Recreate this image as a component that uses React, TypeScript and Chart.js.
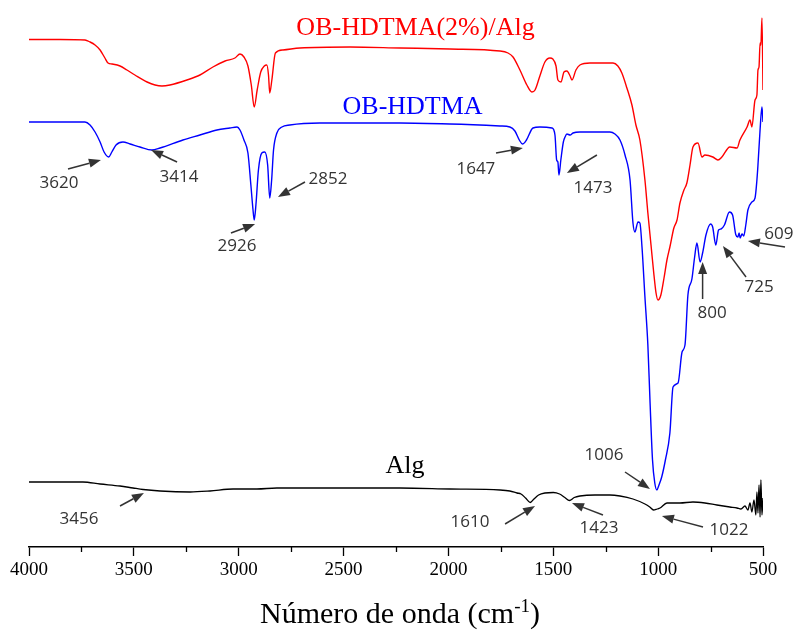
import React, { useEffect, useRef } from 'react';
import { Chart, registerables } from 'chart.js';

Chart.register(...registerables);

// ---- FTIR spectra: wavenumber (cm-1) and transmittance (arbitrary units, stacked) ----

const compositeWn = [
  4000, 3852, 3733, 3709, 3685, 3661, 3638, 3623, 3604, 3566, 3533, 3495, 3437, 3399, 3366, 3328,
  3247, 3185, 3123, 3065, 3018, 2994, 2975, 2956, 2940, 2926, 2912, 2895, 2878, 2866, 2858, 2852,
  2842, 2825, 2789, 2708, 2469, 2231, 1993, 1754, 1716, 1692, 1659, 1626, 1602, 1587, 1564, 1540,
  1516, 1502, 1487, 1478, 1463, 1449, 1435, 1420, 1411, 1392, 1373, 1325, 1277, 1215, 1192, 1173,
  1149, 1125, 1106, 1087, 1063, 1049, 1034, 1020, 1010, 1001, 987, 972, 958, 944, 925, 910,
  896, 877, 863, 848, 834, 810, 791, 777, 739, 715, 696, 658, 624, 610, 576, 562,
  553, 538, 529, 524, 519, 514, 510, 505, 500,
];
const compositeT = [
  101.5, 101.5, 101.4, 101.0, 100.4, 99.4, 97.8, 96.8, 96.6, 96.2, 95.4, 94.4, 93.0, 92.4, 92.2, 92.4,
  93.4, 94.4, 96.0, 97.2, 97.8, 98.6, 98.0, 96.2, 92.4, 88.0, 91.4, 95.0, 96.2, 96.4, 94.4, 90.8,
  93.4, 98.8, 99.4, 99.8, 100.0, 99.8, 99.6, 99.2, 98.8, 98.0, 95.4, 92.4, 91.0, 91.4, 94.2, 97.0,
  97.8, 97.6, 96.2, 93.4, 93.0, 95.0, 95.2, 94.2, 93.4, 95.4, 96.4, 96.8, 96.8, 96.8, 96.2, 94.8,
  91.8, 88.4, 84.4, 81.4, 73.4, 66.8, 60.4, 54.4, 50.8, 49.4, 50.4, 53.8, 57.4, 60.0, 63.8, 65.4,
  68.8, 71.4, 72.8, 76.4, 80.0, 80.8, 78.0, 78.4, 78.0, 77.4, 78.0, 80.0, 79.8, 81.4, 84.0, 85.4,
  84.0, 89.4, 90.4, 95.4, 96.0, 100.8, 100.4, 105.8, 91.4,
];

const organoWn = [
  4000, 3852, 3733, 3709, 3685, 3661, 3642, 3620, 3605, 3585, 3552, 3518, 3471, 3414, 3375, 3266,
  3185, 3104, 3042, 3008, 2994, 2975, 2956, 2942, 2932, 2926, 2918, 2906, 2890, 2876, 2862, 2852,
  2843, 2834, 2818, 2794, 2756, 2613, 2231, 1993, 1754, 1707, 1683, 1662, 1647, 1628, 1597, 1564,
  1506, 1492, 1484, 1478, 1473, 1464, 1452, 1444, 1435, 1420, 1406, 1373, 1230, 1206, 1182, 1158,
  1134, 1120, 1111, 1096, 1087, 1077, 1063, 1049, 1039, 1027, 1016, 1006, 996, 983, 965, 944,
  929, 905, 886, 872, 858, 839, 826, 815, 800, 788, 772, 750, 740, 725, 712, 700,
  684, 660, 645, 630, 620, 614, 609, 600, 592, 582, 572, 553, 538, 529, 524, 514,
  505, 500,
];
const organoT = [
  85.0, 85.0, 85.0, 84.4, 83.0, 81.0, 79.0, 78.0, 79.0, 80.4, 81.0, 80.6, 80.0, 79.4, 79.8, 81.4,
  82.4, 83.4, 83.8, 84.0, 83.4, 81.4, 78.8, 72.4, 67.5, 65.4, 68.4, 75.4, 78.8, 79.0, 76.4, 69.8,
  73.4, 79.4, 82.8, 84.0, 84.4, 84.8, 84.8, 84.6, 84.2, 84.0, 83.2, 81.4, 80.6, 81.4, 83.8, 84.0,
  83.8, 82.4, 77.4, 77.0, 74.4, 77.4, 81.0, 82.0, 82.6, 82.4, 82.8, 83.0, 83.0, 82.6, 81.4, 78.4,
  73.4, 64.8, 63.0, 65.0, 64.8, 60.0, 50.0, 40.4, 29.4, 17.5, 12.8, 11.4, 12.4, 14.0, 17.5, 22.8,
  32.0, 32.8, 39.0, 40.4, 50.4, 53.6, 58.0, 60.8, 57.0, 58.8, 62.4, 64.6, 64.0, 60.4, 63.4, 63.6,
  64.4, 67.0, 66.4, 62.5, 62.0, 62.8, 61.8, 62.6, 62.2, 64.4, 67.4, 69.0, 69.8, 73.4, 76.4, 83.4,
  88.0, 85.0,
];

const alginateWn = [
  4000, 3852, 3743, 3661, 3566, 3504, 3456, 3375, 3232, 3137, 3027, 2913, 2818, 2613, 2231, 1993,
  1754, 1707, 1673, 1654, 1632, 1610, 1592, 1570, 1540, 1500, 1470, 1445, 1423, 1400, 1373, 1301,
  1230, 1182, 1120, 1063, 1040, 1022, 1005, 991, 958, 896, 834, 777, 720, 658, 624, 605,
  586, 572, 562, 553, 543, 534, 529, 524, 519, 514, 510, 505, 500,
];
const alginateT = [
  13.0, 13.0, 13.0, 12.6, 12.2, 11.8, 11.5, 11.2, 11.0, 11.2, 11.6, 11.6, 11.8, 11.8, 11.8, 11.6,
  11.4, 11.2, 10.8, 10.6, 9.8, 8.9, 9.6, 10.4, 10.8, 10.9, 10.6, 9.9, 9.3, 9.9, 10.2, 10.4,
  10.4, 10.2, 9.6, 8.6, 8.0, 7.4, 7.6, 7.8, 8.8, 8.8, 9.0, 8.8, 8.4, 8.0, 7.8, 7.6,
  8.2, 7.4, 8.8, 7.0, 9.4, 6.4, 11.0, 6.8, 12.4, 6.0, 13.4, 6.4, 9.8,
];

const seriesNames = ['OB-HDTMA(2%)/Alg', 'OB-HDTMA', 'Alg'];
const seriesColors = ['#ff0000', '#0000ff', '#000000'];

const xMajorTicks = [4000, 3500, 3000, 2500, 2000, 1500, 1000, 500];
const xMinorTicks = [3750, 3250, 2750, 2250, 1750, 1250, 750];

// Band assignments: label text, and [wavenumber, transmittance] of label centre, arrow tail and arrow tip
const bandLabels = [
  { text: '3620', at: [3857, 72.8], tail: [3814, 75.6], tip: [3657, 77.4] },
  { text: '3414', at: [3285, 74.0], tail: [3294, 77.0], tip: [3418, 79.4] },
  { text: '2926', at: [3008, 60.2], tail: [3037, 62.8], tip: [2922, 64.6] },
  { text: '2852', at: [2574, 73.6], tail: [2684, 73.0], tip: [2813, 70.0] },
  { text: '1647', at: [1869, 75.6], tail: [1773, 78.8], tip: [1645, 79.8] },
  { text: '1473', at: [1311, 71.8], tail: [1292, 78.4], tip: [1435, 74.8] },
  { text: '800', at: [743, 46.8], tail: [788, 49.6], tip: [788, 57.0] },
  { text: '725', at: [519, 52.0], tail: [581, 54.0], tip: [691, 60.2] },
  { text: '609', at: [424, 62.6], tail: [395, 60.0], tip: [572, 61.2] },
  { text: '1006', at: [1258, 18.4], tail: [1158, 15.0], tip: [1039, 11.6] },
  { text: '3456', at: [3762, 5.6], tail: [3566, 8.2], tip: [3452, 10.8] },
  { text: '1610', at: [1897, 5.0], tail: [1730, 4.6], tip: [1587, 8.2] },
  { text: '1423', at: [1282, 3.8], tail: [1263, 6.4], tip: [1411, 8.8] },
  { text: '1022', at: [662, 3.4], tail: [786, 4.0], tip: [982, 6.2] },
];

// Where each spectrum's name sits: [wavenumber, transmittance] of the text baseline centre
const seriesNameAt = [
  [2157, 102.4],
  [2171, 86.6],
  [2207, 14.8],
];

const SERIF = "'Liberation Serif', 'Times New Roman', serif";

const toPoints = (xs: number[], ys: number[]) => xs.map((x, i) => ({ x, y: ys[i] }));

const decorations = {
  id: 'ftirDecorations',
  afterDraw(chart: any) {
    const { ctx, chartArea } = chart;
    const xs = chart.scales.x;
    const ys = chart.scales.y;
    const px = (v: number) => xs.getPixelForValue(v);
    const py = (v: number) => ys.getPixelForValue(v);
    ctx.save();

    // minor ticks on the wavenumber axis
    ctx.strokeStyle = '#000';
    ctx.lineWidth = 1.3;
    for (const t of xMinorTicks) {
      const x = Math.round(px(t)) + 0.5;
      ctx.beginPath();
      ctx.moveTo(x, chartArea.bottom);
      ctx.lineTo(x, chartArea.bottom + 5);
      ctx.stroke();
    }

    // spectrum names
    ctx.font = `26px ${SERIF}`;
    ctx.textAlign = 'center';
    ctx.textBaseline = 'alphabetic';
    seriesNames.forEach((name, i) => {
      ctx.fillStyle = seriesColors[i];
      ctx.fillText(name, px(seriesNameAt[i][0]), py(seriesNameAt[i][1]));
    });

    // band arrows
    ctx.strokeStyle = '#333';
    ctx.fillStyle = '#333';
    ctx.lineWidth = 1.5;
    for (const b of bandLabels) {
      const x0 = px(b.tail[0]);
      const y0 = py(b.tail[1]);
      const x1 = px(b.tip[0]);
      const y1 = py(b.tip[1]);
      const ang = Math.atan2(y1 - y0, x1 - x0);
      const headLen = 12;
      const headHalf = 4.5;
      const bx = x1 - headLen * Math.cos(ang);
      const by = y1 - headLen * Math.sin(ang);
      ctx.beginPath();
      ctx.moveTo(x0, y0);
      ctx.lineTo(bx, by);
      ctx.stroke();
      ctx.beginPath();
      ctx.moveTo(x1, y1);
      ctx.lineTo(bx + headHalf * Math.sin(ang), by - headHalf * Math.cos(ang));
      ctx.lineTo(bx - headHalf * Math.sin(ang), by + headHalf * Math.cos(ang));
      ctx.closePath();
      ctx.fill();
    }

    // band labels
    ctx.font = "17px 'Open Sans', 'DejaVu Sans', sans-serif";
    ctx.fillStyle = '#333';
    ctx.textAlign = 'center';
    ctx.textBaseline = 'middle';
    for (const b of bandLabels) {
      ctx.fillText(b.text, px(b.at[0]), py(b.at[1]));
    }

    // axis title with superscript
    const main = 'Número de onda (cm';
    const sup = '-1';
    const close = ')';
    ctx.fillStyle = '#000';
    ctx.textAlign = 'left';
    ctx.textBaseline = 'alphabetic';
    ctx.font = `30px ${SERIF}`;
    const wMain = ctx.measureText(main).width;
    const wClose = ctx.measureText(close).width;
    ctx.font = `19px ${SERIF}`;
    const wSup = ctx.measureText(sup).width;
    const cx = (chartArea.left + chartArea.right) / 2 + 4;
    const base = chartArea.bottom + 76;
    let x = cx - (wMain + wSup + wClose) / 2;
    ctx.font = `30px ${SERIF}`;
    ctx.fillText(main, x, base);
    x += wMain;
    ctx.font = `19px ${SERIF}`;
    ctx.fillText(sup, x, base - 11);
    x += wSup;
    ctx.font = `30px ${SERIF}`;
    ctx.fillText(close, x, base);

    ctx.restore();
  },
};

export default function App() {
  const canvasRef = useRef<HTMLCanvasElement>(null);

  useEffect(() => {
    if (!canvasRef.current) return;
    const chart = new Chart(canvasRef.current, {
      type: 'line',
      data: {
        datasets: [
          { label: seriesNames[0], data: toPoints(compositeWn, compositeT) },
          { label: seriesNames[1], data: toPoints(organoWn, organoT) },
          { label: seriesNames[2], data: toPoints(alginateWn, alginateT) },
        ].map((d, i) => ({
          ...d,
          borderColor: seriesColors[i],
          borderWidth: i === 2 ? 1.3 : 1.4,
          pointRadius: 0,
          fill: false,
          cubicInterpolationMode: 'monotone' as const,
        })),
      },
      options: {
        responsive: false,
        animation: false,
        layout: { padding: { left: 29, right: 34, top: 7, bottom: 0 } },
        plugins: {
          legend: { display: false },
          tooltip: { enabled: false },
        },
        scales: {
          x: {
            type: 'linear',
            reverse: true,
            min: 500,
            max: 4000,
            afterBuildTicks: (scale: any) => {
              scale.ticks = xMajorTicks.map((v) => ({ value: v }));
            },
            afterFit: (scale: any) => {
              scale.height = 86;
            },
            ticks: {
              autoSkip: false,
              maxRotation: 0,
              padding: 3,
              color: '#000',
              font: { family: SERIF, size: 19 },
              callback: (v: any) => String(v),
            },
            grid: {
              drawOnChartArea: false,
              drawTicks: true,
              tickLength: 9,
              tickColor: '#000',
              tickWidth: 1.3,
            },
            border: { display: true, color: '#000', width: 1.5 },
          },
          y: {
            display: false,
            min: 0,
            max: 108,
          },
        },
      },
      plugins: [decorations],
    });
    return () => chart.destroy();
  }, []);

  return (
    <div style={{ position: 'absolute', left: 0, top: 0, width: 797, height: 633, background: '#fff' }}>
      <canvas ref={canvasRef} width={797} height={633} style={{ display: 'block' }} />
    </div>
  );
}
